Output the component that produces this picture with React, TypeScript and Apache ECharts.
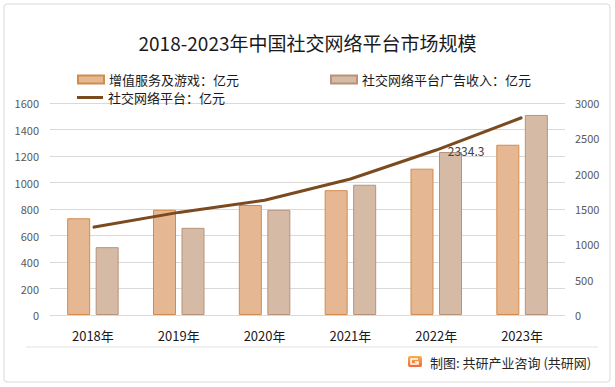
import React, { useEffect, useRef } from "react";
import * as echarts from "echarts";

const categories = ["2018年", "2019年", "2020年", "2021年", "2022年", "2023年"];
const vasGames = [730, 794, 830, 942, 1104.3, 1285];
const adRevenue = [512, 658, 794, 983, 1230, 1510];
const platformTotal = [1242, 1452, 1624, 1925, 2334.3, 2795];
const leftTicks = { min: 0, max: 1600, interval: 200 };
const rightTicks = { min: 0, max: 3000, interval: 500 };
const labeledIndex = 4;

const names = ["增值服务及游戏：亿元", "社交网络平台广告收入：亿元", "社交网络平台：亿元"];
const FONT = "'Noto Sans CJK SC', 'Noto Sans', sans-serif";

export default function App() {
  const ref = useRef<HTMLDivElement>(null);
  useEffect(() => {
    if (!ref.current) return;
    const chart = echarts.init(ref.current, undefined, { renderer: "svg" });
    chart.setOption({
      animation: false,
      backgroundColor: "#ffffff",
      textStyle: { fontFamily: FONT },
      title: {
        text: "2018-2023年中国社交网络平台市场规模",
        left: "center",
        top: 28,
        textStyle: { fontSize: 19, fontWeight: "normal", color: "#1a1a1a", fontFamily: FONT },
      },
      legend: [
        {
          data: [names[0]],
          left: 72,
          top: 68,
          itemWidth: 26,
          itemHeight: 8,
          icon: "rect",
          textStyle: { fontSize: 13, color: "#1a1a1a", fontFamily: FONT },
        },
        {
          data: [names[1]],
          left: 325,
          top: 68,
          itemWidth: 26,
          itemHeight: 8,
          icon: "rect",
          textStyle: { fontSize: 13, color: "#1a1a1a", fontFamily: FONT },
        },
        {
          data: [{ name: names[2], itemStyle: { color: "#7b4a1e", borderWidth: 0 } }],
          left: 72,
          top: 86,
          itemWidth: 26,
          itemHeight: 3,
          icon: "rect",
          textStyle: { fontSize: 13, color: "#1a1a1a", fontFamily: FONT },
        },
      ],
      grid: { left: 50, right: 50, top: 103, bottom: 72, containLabel: false },
      xAxis: {
        type: "category",
        data: categories,
        axisLine: { show: false },
        axisTick: { show: false },
        axisLabel: { fontSize: 13, color: "#1a1a1a", margin: 14, fontFamily: FONT },
      },
      yAxis: [
        {
          type: "value",
          ...leftTicks,
          axisLine: { show: false },
          axisTick: { show: false },
          axisLabel: {
            fontSize: 11,
            color: "#595959",
            margin: 11,
            fontFamily: FONT,
            formatter: (v: number) => String(v),
          },
          splitLine: { lineStyle: { color: "#d9d9d9", width: 1 } },
        },
        {
          type: "value",
          ...rightTicks,
          position: "right",
          axisLine: { show: false },
          axisTick: { show: false },
          axisLabel: {
            fontSize: 11,
            color: "#595959",
            margin: 10,
            fontFamily: FONT,
            formatter: (v: number) => String(v),
          },
          splitLine: { show: false },
        },
      ],
      series: [
        {
          name: names[0],
          type: "bar",
          data: vasGames,
          barWidth: 23,
          barGap: "24%",
          itemStyle: { color: "#e5b893", borderColor: "#d38b4c", borderWidth: 1 },
        },
        {
          name: names[1],
          type: "bar",
          data: adRevenue,
          barWidth: 23,
          itemStyle: { color: "#d5bba6", borderColor: "#b9927a", borderWidth: 1 },
        },
        {
          name: names[2],
          type: "line",
          yAxisIndex: 1,
          data: platformTotal.map((v, i) =>
            i === labeledIndex
              ? {
                  value: v,
                  label: {
                    show: true,
                    position: "right",
                    distance: 11,
                    fontSize: 12,
                    color: "#404040",
                    fontFamily: FONT,
                  },
                }
              : v
          ),
          symbol: "circle",
          symbolSize: 1,
          showSymbol: true,
          lineStyle: { color: "#7b4a1e", width: 3 },
          itemStyle: { color: "#7b4a1e" },
          z: 5,
        },
      ],
      graphic: [
        {
          type: "rect",
          shape: { x: 4, y: 4, width: 606, height: 378, r: 3 },
          style: { fill: "none", stroke: "#d9d9d9", lineWidth: 1 },
          silent: true,
        },
        {
          type: "line",
          shape: { x1: 26, y1: 347, x2: 598, y2: 347 },
          style: { stroke: "#e3e3e3", lineWidth: 1 },
          silent: true,
        },
        {
          type: "rect",
          shape: { x: 408, y: 356, width: 14, height: 11, r: 2 },
          style: {
            fill: new echarts.graphic.LinearGradient(0, 0, 0, 1, [
              { offset: 0, color: "#f9b04a" },
              { offset: 1, color: "#f06a3a" },
            ]),
          },
          silent: true,
        },
        {
          type: "polyline",
          shape: { points: [[418, 359], [411, 359], [411, 364], [418, 364], [418, 362], [415, 362]] },
          style: { stroke: "#ffffff", lineWidth: 1.5, fill: "none" },
          silent: true,
        },
        {
          type: "text",
          x: 430,
          y: 362,
          style: {
            text: "制图: 共研产业咨询 (共研网)",
            fontSize: 13,
            fill: "#262626",
            fontFamily: FONT,
            verticalAlign: "middle",
          },
          silent: true,
        },
      ],
    });
    return () => chart.dispose();
  }, []);
  return <div ref={ref} style={{ width: 615, height: 387, position: "absolute", left: 0, top: 0 }} />;
}
